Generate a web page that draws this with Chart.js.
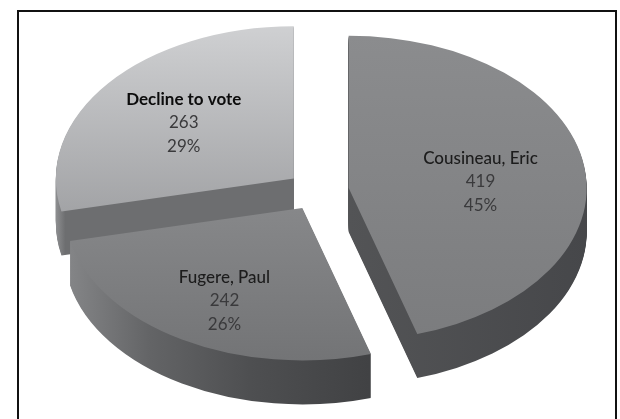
<!DOCTYPE html>
<html>
<head>
<meta charset="utf-8">
<script src="https://cdn.jsdelivr.net/npm/chart.js@4"></script>
<style>
    html, body { margin: 0; padding: 0; background: #fff; }
    #marco { position: absolute; left: 17px; top: 10px; width: 600px; height: 409px; box-sizing: border-box;
             border: 2.5px solid #111; border-bottom: 0; }
    #grafico { position: absolute; left: 0; top: 0; filter: blur(0.45px); }
</style>
</head>
<body>
<canvas id="grafico" width="620" height="419"></canvas>
<div id="marco"></div>
<script>
// Datos
const candidatos = ['Cousineau, Eric', 'Fugere, Paul', 'Decline to vote'];
const votos = [419, 242, 263];
const porcentajes = ['45%', '26%', '29%'];

// Colores de cada porcion: cara superior (arriba, abajo) y pared lateral
const caraArriba = ['#8b8c8e', '#9a9b9d', '#cfd0d2'];
const caraAbajo = ['#7b7c7e', '#737476', '#86878a'];
const paredColores = [
    [[0.5, '#535456'], [1, '#46474a']],
    [[0, '#868789'], [0.18, '#636466'], [0.39, '#4e4f51'], [0.64, '#414244']],
    [[0, '#8e8f91'], [0.02, '#6d6e70'], [1, '#6d6e70']]
];
const colorNombre = ['#1c1c1c', '#1c1c1c', '#0c0c0c'];
const pesoNombre = ['500', '500', '700'];

const ACHATADO = 0.64;   // relacion alto/ancho de la elipse
const PROFUNDIDAD = 44;  // grosor del pastel en px
const SEPARACION = 31;   // explosion de las porciones
const RADIO = 238;

// Posicion de la etiqueta sobre el radio de cada porcion
const radioEtiqueta = [0.56, 0.68, 0.62];
const ajusteX = [0, 4, 5];
const ajusteY = [6, 3, 3];

// Dibuja cada porcion con su grosor, aplastada como elipse
const pastel3d = {
    id: 'pastel3d',
    beforeDatasetDraw(chart) {
        const ctx = chart.ctx;
        const arcos = chart.getDatasetMeta(0).data;
        // orden: primero las de atras
        [2, 0, 1].forEach(function (i) {
            const arco = arcos[i];
            const medio = (arco.startAngle + arco.endAngle) / 2;
            const dx = Math.cos(medio) * SEPARACION;
            const dy = Math.sin(medio) * SEPARACION * ACHATADO;
            const opciones = arco.options;

            const pared = ctx.createLinearGradient(arco.x - RADIO, 0, arco.x + RADIO, 0);
            paredColores[i].forEach(function (p) {
                pared.addColorStop(p[0], p[1]);
            });
            const cara = ctx.createLinearGradient(0, arco.y - RADIO, 0, arco.y + RADIO);
            cara.addColorStop(0, caraArriba[i]);
            cara.addColorStop(1, caraAbajo[i]);

            for (let capa = PROFUNDIDAD; capa >= 0; capa--) {
                ctx.save();
                ctx.translate(arco.x + dx, arco.y + dy + capa);
                ctx.scale(1, ACHATADO);
                ctx.translate(-arco.x, -arco.y);
                arco.options = Object.assign({}, opciones, { backgroundColor: capa ? pared : cara });
                arco.draw(ctx);
                ctx.restore();
            }
            arco.options = opciones;
        });

        // Etiquetas
        ctx.save();
        ctx.textAlign = 'center';
        ctx.textBaseline = 'middle';
        arcos.forEach(function (arco, i) {
            const medio = (arco.startAngle + arco.endAngle) / 2;
            const r = SEPARACION + RADIO * radioEtiqueta[i];
            const x = arco.x + Math.cos(medio) * r + ajusteX[i];
            const y = arco.y + Math.sin(medio) * r * ACHATADO + ajusteY[i];
            ctx.fillStyle = colorNombre[i];
            ctx.font = pesoNombre[i] + ' 17px Lato';
            ctx.fillText(candidatos[i], x, y - 23);
            ctx.fillStyle = '#3a3a3c';
            ctx.font = '17px Lato';
            ctx.fillText(String(votos[i]), x, y);
            ctx.fillText(porcentajes[i], x, y + 24);
        });
        ctx.restore();
        return false;
    }
};

new Chart(document.getElementById('grafico').getContext('2d'), {
    type: 'pie',
    data: {
        labels: candidatos,
        datasets: [{
            data: votos,
            radius: RADIO,
            borderWidth: 0,
            backgroundColor: caraArriba,
            clip: false
        }]
    },
    options: {
        responsive: false,
        animation: false,
        devicePixelRatio: 1,
        layout: { padding: { left: 16, right: 0, top: 0, bottom: 37 } },
        plugins: {
            legend: { display: false },
            tooltip: { enabled: false }
        }
    },
    plugins: [pastel3d]
});
</script>
</body>
</html>
